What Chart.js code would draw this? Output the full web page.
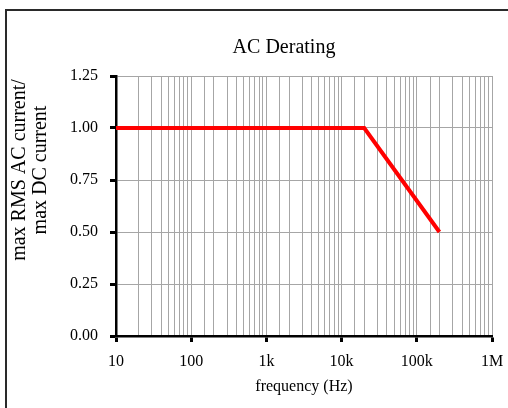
<!DOCTYPE html>
<html>
<head>
<meta charset="utf-8">
<title>AC Derating</title>
<script src="https://cdn.jsdelivr.net/npm/chart.js@4/dist/chart.umd.min.js"></script>
<style>
  html, body { margin: 0; padding: 0; background: #fff; }
  #wrap { position: relative; width: 508px; height: 408px; overflow: hidden; }
  #frame { position: absolute; left: 5px; top: 9px; width: 600px; height: 600px;
           border-top: 2px solid #2a2a2a; border-left: 2px solid #2a2a2a; }
  canvas { position: absolute; left: 0; top: 0; }
</style>
</head>
<body>
<div id="wrap">
  <div id="frame"></div>
  <canvas id="deratingChart" width="508" height="408"></canvas>
</div>
<script>
// data
const frequencies = [10, 20000, 200000];
const currentRatio = [1.0, 1.0, 0.5];
const yTickValues = [0, 0.25, 0.5, 0.75, 1.0, 1.25];
const xTickLabels = { 10: "10", 100: "100", 1000: "1k", 10000: "10k", 100000: "100k", 1000000: "1M" };
const chartTitle = "AC Derating";
const xTitle = "frequency (Hz)";
const yTitleLines = ["max RMS AC current/", "max DC current"];

const serif = "'Liberation Serif', 'Times New Roman', serif";
const isDecade = v => Math.abs(Math.log10(v) - Math.round(Math.log10(v))) < 1e-9;

// Excel puts the y title a bit above the plot middle, and the chart title off-centre
const excelTitles = {
  id: "excelTitles",
  afterLayout(chart) {
    const t = chart.titleBlock;
    if (t) {
      const shift = 284 - (t.left + t.right) / 2;
      t.left += shift;
      t.right += shift;
    }
  },
  afterDraw(chart) {
    const ctx = chart.ctx;
    ctx.save();
    ctx.translate(30, 170);
    ctx.rotate(-Math.PI / 2);
    ctx.font = "20px " + serif;
    ctx.fillStyle = "#000";
    ctx.textAlign = "center";
    ctx.textBaseline = "middle";
    ctx.fillText(yTitleLines[0], 0, -10.5);
    ctx.fillText(yTitleLines[1], 0, 10.5);
    ctx.restore();
  }
};

new Chart(document.getElementById("deratingChart"), {
  type: "line",
  data: {
    datasets: [{
      data: frequencies.map((f, i) => ({ x: f, y: currentRatio[i] })),
      borderColor: "#ff0000",
      borderWidth: 4,
      pointRadius: 0,
      fill: false,
      tension: 0
    }]
  },
  options: {
    responsive: false,
    devicePixelRatio: 1,
    animation: false,
    layout: { padding: { left: 0, right: 16, top: 0, bottom: 0 } },
    plugins: {
      legend: { display: false },
      tooltip: { enabled: false },
      title: {
        display: true,
        text: chartTitle,
        color: "#000",
        font: { family: serif, size: 20, weight: "normal" },
        padding: { top: 36, bottom: 16 }
      }
    },
    scales: {
      x: {
        type: "logarithmic",
        min: 10,
        max: 1000000,
        afterFit: s => { s.height = 72; s.paddingLeft = 0; s.paddingRight = 0; },
        border: { color: "#000", width: 2.5 },
        grid: {
          color: "#a6a6a6",
          lineWidth: 1,
          tickLength: 6,
          tickColor: c => (c.tick && isDecade(c.tick.value)) ? "#000" : "rgba(0,0,0,0)",
          tickWidth: 3
        },
        ticks: {
          autoSkip: false,
          maxRotation: 0,
          padding: 10,
          color: "#000",
          font: { family: serif, size: 16 },
          callback: v => isDecade(v) ? xTickLabels[Math.round(v)] : ""
        },
        title: {
          display: true,
          text: xTitle,
          color: "#000",
          font: { family: serif, size: 16 },
          padding: { top: 0, bottom: 12 }
        }
      },
      y: {
        min: 0,
        max: 1.25,
        afterFit: s => { s.width = 116; },
        afterBuildTicks: s => { s.ticks = yTickValues.map(v => ({ value: v })); },
        border: { color: "#000", width: 2.5 },
        grid: {
          color: "#a6a6a6",
          lineWidth: 1,
          tickLength: 6,
          tickColor: "#000",
          tickWidth: 3
        },
        ticks: {
          padding: 12,
          color: "#000",
          font: { family: serif, size: 16 },
          callback: v => Number(v).toFixed(2)
        }
      }
    }
  },
  plugins: [excelTitles]
});
</script>
</body>
</html>
